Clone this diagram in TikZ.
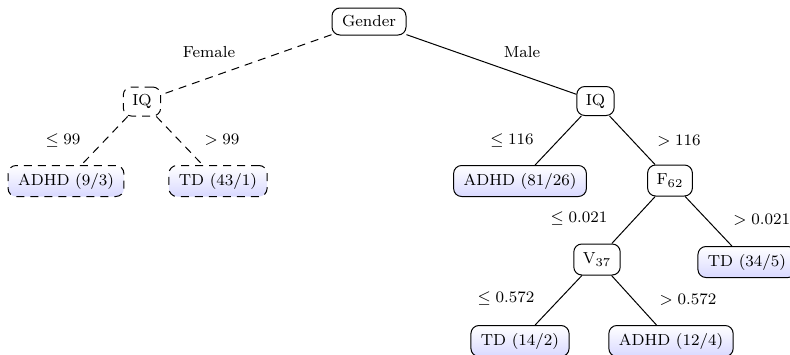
\documentclass[tikz,border=0pt]{standalone}
\begin{document}
\begin{tikzpicture}[x=0.5pt,y=-0.5pt,
  tnode/.style={draw, rounded corners=4pt, inner xsep=4.5pt, inner ysep=0pt, minimum height=14.5pt, font=\footnotesize, line width=0.5pt},
  leaf/.style={tnode, top color=white, bottom color=blue!15, inner xsep=5pt, minimum height=15.5pt},
  dnode/.style={dash pattern=on 4pt off 3pt},
  lab/.style={font=\footnotesize, inner sep=0pt},
  edge/.style={line width=0.5pt},
  dedge/.style={line width=0.5pt, dash pattern=on 4pt off 3pt}]
\useasboundingbox (0,0) rectangle (790,354);
\clip (0,0) rectangle (790,354);
\node[tnode, minimum height=13.5pt, minimum width=37pt] (gender) at (369,21.5) {Gender};
\node[tnode,dnode] (iql) at (142,101.5) {IQ};
\node[tnode] (iqr) at (595.5,101) {IQ};
\node[leaf,dnode] (adhd93) at (66,181) {ADHD (9/3)};
\node[leaf,dnode] (td431) at (218,181) {TD (43/1)};
\node[leaf] (adhd8126) at (520,181) {ADHD (81/26)};
\node[tnode, minimum height=15.5pt] (f62) at (670,180.5) {F$_{62}$};
\node[tnode, minimum height=15.5pt] (v37) at (597,259.5) {V$_{37}$};
\node[leaf] (td345) at (747,262) {TD (34/5)};
\node[leaf] (td142) at (520,341) {TD (14/2)};
\node[leaf] (adhd124) at (671,341) {ADHD (12/4)};
\draw[dedge] (gender) -- (iql);
\draw[edge] (gender) -- (iqr);
\draw[dedge] (iql) -- (adhd93);
\draw[dedge] (iql) -- (td431);
\draw[edge] (iqr) -- (adhd8126);
\draw[edge] (iqr) -- (f62);
\draw[edge] (f62) -- (v37);
\draw[edge] (f62) -- (td345);
\draw[edge] (v37) -- (td142);
\draw[edge] (v37) -- (adhd124);
\node[lab] (lfemale) at (209,52) {Female};
\node[lab] (lmale) at (522,52) {Male};
\node[lab] (l99a) at (63,140) {$\leq 99$};
\node[lab] (l99b) at (222,140) {$> 99$};
\node[lab] (l116a) at (512,140) {$\leq 116$};
\node[lab] (l116b) at (679,141) {$> 116$};
\node[lab] (l021a) at (579,218) {$\leq 0.021$};
\node[lab,anchor=west] (l021b) at (733,220) {$> 0.021$};
\node[lab] (l572a) at (506,298) {$\leq 0.572$};
\node[lab] (l572b) at (688,300) {$> 0.572$};
\end{tikzpicture}
\end{document}
